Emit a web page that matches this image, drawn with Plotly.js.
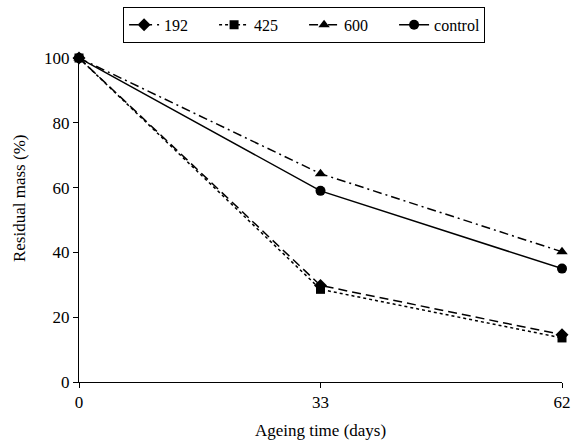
<!DOCTYPE html>
<html>
<head>
<meta charset="utf-8">
<script src="https://cdn.plot.ly/plotly-3.0.1.min.js"></script>
<style>html,body{margin:0;padding:0;background:#fff;}#chart{width:578px;height:442px;}</style>
</head>
<body>
<div id="chart"></div>
<script>
var days = ["0", "33", "62"];
var s192 = [100, 29.8, 14.6];
var s425 = [100, 28.6, 13.6];
var s600 = [100, 64.3, 40.2];
var sControl = [100, 59.0, 35.0];
var yTitle = "Residual mass (%)";
var xTitle = "Ageing time (days)";

var traces = [
  {name: "192", x: days, y: s192, mode: "lines+markers", legendrank: 1,
   line: {color: "#000", width: 1.5, dash: "9px,5px"},
   marker: {symbol: "diamond", size: 10, color: "#000"}, cliponaxis: false},
  {name: "600", x: days, y: s600, mode: "lines+markers", legendrank: 3,
   line: {color: "#000", width: 1.5, dash: "9px,4px,2px,4px"},
   marker: {symbol: "triangle-up", size: 10, color: "#000"}, cliponaxis: false},
  {name: "control", x: days, y: sControl, mode: "lines+markers", legendrank: 4,
   line: {color: "#000", width: 1.5},
   marker: {symbol: "circle", size: 10, color: "#000"}, cliponaxis: false},
  {name: "425", x: days, y: s425, mode: "lines+markers", legendrank: 2,
   line: {color: "#000", width: 1.5, dash: "3px,3px"},
   marker: {symbol: "square", size: 9, color: "#000"}, cliponaxis: false}
];

var font = {family: "'Liberation Serif', 'Times New Roman', serif", size: 17, color: "#000"};

var layout = {
  width: 578, height: 442,
  margin: {l: 79, r: 16, t: 58, b: 60, autoexpand: false},
  paper_bgcolor: "#fff", plot_bgcolor: "#fff",
  font: font,
  showlegend: true,
  legend: {
    orientation: "h", x: 0.466, xanchor: "center", y: 1.158, yanchor: "top",
    bordercolor: "#000", borderwidth: 1, bgcolor: "#fff",
    font: {family: font.family, size: 16, color: "#000"},
    entrywidth: 45, entrywidthmode: "pixels",
    traceorder: "normal"
  },
  xaxis: {
    type: "category", range: [0, 2],
    showline: true, linecolor: "#000", linewidth: 1,
    showgrid: false, zeroline: false,
    ticks: "outside", ticklen: 5, tickcolor: "#000",
    tickfont: font,
    title: {text: xTitle, font: font, standoff: 12}
  },
  yaxis: {
    range: [0, 100], dtick: 20,
    showline: true, linecolor: "#000", linewidth: 1,
    showgrid: false, zeroline: false,
    ticks: "outside", ticklen: 5, tickcolor: "#000",
    tickfont: font
  },
  annotations: [{
    text: yTitle, textangle: -90, showarrow: false,
    xref: "paper", yref: "paper", x: -0.122, y: 0.565,
    xanchor: "center", yanchor: "middle", font: font
  }]
};

Plotly.newPlot("chart", traces, layout, {displayModeBar: false, staticPlot: true});
</script>
</body>
</html>
